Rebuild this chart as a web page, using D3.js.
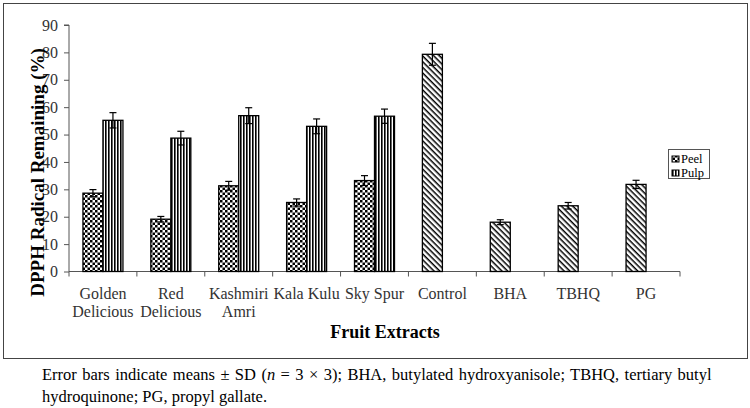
<!DOCTYPE html>
<html><head><meta charset="utf-8">
<script src="https://cdn.jsdelivr.net/npm/d3@7/dist/d3.min.js"></script>
<style>body{margin:0;background:#fff}svg{display:block}</style>
</head><body>
<script>
const categories = ["Golden Delicious","Red Delicious","Kashmiri Amri","Kala Kulu","Sky Spur","Control","BHA","TBHQ","PG"];
const categoryLines = [["Golden","Delicious"],["Red","Delicious"],["Kashmiri","Amri"],["Kala Kulu"],["Sky Spur"],["Control"],["BHA"],["TBHQ"],["PG"]];
const peel = [28.6,19.1,31.3,25.2,33.2,null,null,null,null];
const peelSD = [1.3,1.0,1.6,1.3,1.8,null,null,null,null];
const pulp = [55.2,48.7,56.9,53.0,56.7,null,null,null,null];
const pulpSD = [2.8,2.5,2.9,2.7,2.6,null,null,null,null];
const reference = [null,null,null,null,null,79.3,18.0,24.0,31.8];
const referenceSD = [null,null,null,null,null,4.0,0.9,1.2,1.5];
const yTicks = [0,10,20,30,40,50,60,70,80,90];
const seriesNames = ["Peel","Pulp"];

const FONT = "'Liberation Serif', 'Times New Roman', serif";
const W=750,H=408;
const svg=d3.select("body").append("svg").attr("width",W).attr("height",H).attr("font-family",FONT);
const defs=svg.append("defs");
const pc=defs.append("pattern").attr("id","checker").attr("patternUnits","userSpaceOnUse").attr("width",5).attr("height",5);
pc.append("rect").attr("width",5).attr("height",5).attr("fill","#fff");
pc.append("rect").attr("width",2.5).attr("height",2.5).attr("fill","#000");
pc.append("rect").attr("x",2.5).attr("y",2.5).attr("width",2.5).attr("height",2.5).attr("fill","#000");
const pv=defs.append("pattern").attr("id","vstripe").attr("patternUnits","userSpaceOnUse").attr("width",3).attr("height",3);
pv.append("rect").attr("width",3).attr("height",3).attr("fill","#fff");
pv.append("rect").attr("width",1.6).attr("height",3).attr("fill","#000");
const pd=defs.append("pattern").attr("id","diag").attr("patternUnits","userSpaceOnUse").attr("width",4).attr("height",4).attr("patternTransform","rotate(45)");
pd.append("rect").attr("width",4).attr("height",4).attr("fill","#fff");
pd.append("rect").attr("width",4).attr("height",1.5).attr("fill","#000");

svg.append("rect").attr("x",3.5).attr("y",3.5).attr("width",744).attr("height",355).attr("fill","none").attr("stroke","#444").attr("stroke-width",1);

const x0=69,x1=680,y0=271.5,yTop=25;
const x=d3.scaleBand().domain(categories).range([x0,x1]).padding(0);
const y=d3.scaleLinear().domain([0,90]).range([y0,yTop]);
const bw=20;

const g=svg.append("g");
const ya=g.append("g").attr("transform",`translate(${x0},0)`).call(d3.axisLeft(y).tickValues(yTicks).tickSize(5).tickPadding(6));
ya.attr("font-family",FONT).attr("font-size",null);
ya.select(".domain").attr("stroke","#555").attr("d",`M-5,${y(90)}H0V${y(0)}`);
ya.selectAll(".tick line").attr("stroke","#555");
ya.selectAll("text").attr("font-family",FONT).attr("font-size","16px").attr("fill","#333");
const xa=g.append("g").attr("transform",`translate(0,${y0})`);
xa.append("line").attr("x1",x0).attr("x2",x1).attr("stroke","#555");
const bounds=categories.map(c=>x(c)).concat([x1]);
xa.selectAll(".xt").data(bounds).enter().append("line").attr("x1",d=>d).attr("x2",d=>d).attr("y1",0).attr("y2",5).attr("stroke","#555");
categories.forEach((c,i)=>{
  const t=g.append("text").attr("x",x(c)+x.bandwidth()/2).attr("y",299).attr("text-anchor","middle").attr("font-family",FONT).attr("font-size","16px").attr("fill","#333");
  categoryLines[i].forEach((l,j)=>t.append("tspan").attr("x",x(c)+x.bandwidth()/2).attr("dy",j?18:0).text(l));
});

function drawBars(vals,sds,offset,fill){
  categories.forEach((c,i)=>{
    if(vals[i]==null)return;
    const cx=x(c)+x.bandwidth()/2+offset;
    g.append("rect").attr("x",cx).attr("y",y(vals[i])).attr("width",bw).attr("height",y(0)-y(vals[i])).attr("fill",`url(#${fill})`).attr("stroke","#000").attr("stroke-width",1.3);
    const ex=cx+bw/2, yt=y(vals[i]+sds[i]), yb=y(vals[i]-sds[i]);
    g.append("line").attr("x1",ex).attr("x2",ex).attr("y1",yt).attr("y2",yb).attr("stroke","#000").attr("stroke-width",1.2);
    g.append("line").attr("x1",ex-3.5).attr("x2",ex+3.5).attr("y1",yt).attr("y2",yt).attr("stroke","#000").attr("stroke-width",1.2);
    g.append("line").attr("x1",ex-3.5).attr("x2",ex+3.5).attr("y1",yb).attr("y2",yb).attr("stroke","#000").attr("stroke-width",1.2);
  });
}
drawBars(peel,peelSD,-bw,"checker");
drawBars(pulp,pulpSD,0,"vstripe");
drawBars(reference,referenceSD,-bw,"diag");

svg.append("text").attr("transform","translate(44,172.5) rotate(-90)").attr("text-anchor","middle").attr("font-family",FONT).attr("font-size","19px").attr("font-weight","bold").text("DPPH Radical Remaining (%)");
svg.append("text").attr("x",385).attr("y",338).attr("text-anchor","middle").attr("font-family",FONT).attr("font-size","18px").attr("font-weight","bold").text("Fruit Extracts");

const lg=svg.append("g");
lg.append("rect").attr("x",668.5).attr("y",149.5).attr("width",41).attr("height",29).attr("fill","#fff").attr("stroke","#555");
const fills=["checker","vstripe"];
seriesNames.forEach((s,i)=>{
  lg.append("rect").attr("x",672).attr("y",156+i*14).attr("width",7).attr("height",6).attr("fill",`url(#${fills[i]})`).attr("stroke","#000");
  lg.append("text").attr("x",681).attr("y",162.5+i*14).attr("font-family",FONT).attr("font-size","12.5px").text(s);
});

const cap=svg.append("text").attr("x",42).attr("y",380).attr("font-family",FONT).attr("font-size","16.5px").attr("word-spacing","1.3");
cap.append("tspan").text("Error bars indicate means ± SD (");
cap.append("tspan").attr("font-style","italic").text("n");
cap.append("tspan").text(" = 3 × 3); BHA, butylated hydroxyanisole; TBHQ, tertiary butyl");
svg.append("text").attr("x",42).attr("y",402).attr("font-family",FONT).attr("font-size","16.5px").text("hydroquinone; PG, propyl gallate.");
</script>
</body></html>
